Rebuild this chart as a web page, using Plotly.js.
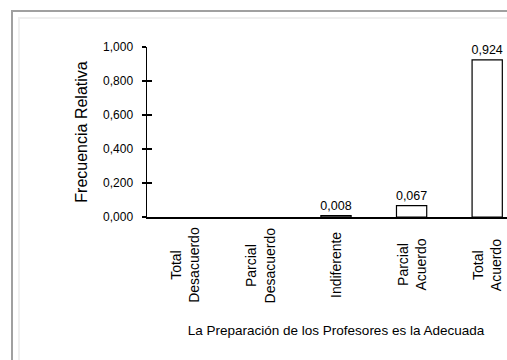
<!DOCTYPE html>
<html>
<head>
<meta charset="utf-8">
<script src="https://cdn.plot.ly/plotly-3.0.1.min.js"></script>
<style>
  html, body { margin: 0; padding: 0; overflow: hidden; background: #ffffff; width: 507px; height: 360px; }
  #chart { position: absolute; left: 0; top: 0; width: 540px; height: 360px; }
  #frameOuter { position: absolute; left: 11px; top: 10px; width: 600px; height: 400px;
    border-left: 2px solid #a0a0a0; border-top: 2px solid #a0a0a0; pointer-events: none; }
  #frameInner { position: absolute; left: 18px; top: 17px; width: 600px; height: 400px;
    border-left: 2px solid #efefef; border-top: 2px solid #efefef; pointer-events: none; }
</style>
</head>
<body>
<div id="chart"></div>
<div id="frameOuter"></div>
<div id="frameInner"></div>
<script>
const categories = ['Total Desacuerdo', 'Parcial Desacuerdo', 'Indiferente', 'Parcial Acuerdo', 'Total Acuerdo'];
const tickLabels = ['Total<br>Desacuerdo', 'Parcial<br>Desacuerdo', 'Indiferente', 'Parcial<br>Acuerdo', 'Total<br>Acuerdo'];
const values = [0, 0, 0.008, 0.067, 0.924];
const yTickValues = [0, 0.2, 0.4, 0.6, 0.8, 1.0];
const yTitle = 'Frecuencia Relativa';
const xTitle = 'La Preparación de los Profesores es la Adecuada';

const valueLabels = values.map(v => v > 0 ? v.toFixed(3).replace('.', ',') : '');
const FONT = 'Liberation Sans, Arial, sans-serif';

const trace = {
  type: 'bar',
  x: categories,
  y: values,
  width: 0.4,
  marker: { color: '#ffffff', line: { color: '#000000', width: values.map(v => v > 0 ? 1.2 : 0) } },
  text: valueLabels,
  texttemplate: '%{text}',
  textposition: 'outside',
  constraintext: 'none',
  cliponaxis: false,
  textfont: { family: FONT, size: 12.5, color: '#000000' },
  hoverinfo: 'skip'
};

// helper invisible trace for crossing (inside) tick marks on the y axis
const tickHelper = {
  type: 'scatter', x: [categories[0]], y: [0], yaxis: 'y2',
  mode: 'markers', marker: { opacity: 0 }, hoverinfo: 'skip', showlegend: false
};

const annotations = tickLabels.map((t, i) => ({
  x: categories[i], xref: 'x', y: 0, yref: 'y',
  yanchor: 'middle', xanchor: 'center', yshift: -48,
  text: t, textangle: -90, align: 'center', showarrow: false,
  font: { family: FONT, size: 14, color: '#000000' }
}));

const layout = {
  width: 540, height: 360,
  margin: { l: 147, r: 15, t: 47, b: 143, pad: 0 },
  paper_bgcolor: 'rgba(0,0,0,0)',
  plot_bgcolor: '#ffffff',
  separators: ',.',
  showlegend: false,
  font: { family: FONT, color: '#000000' },
  xaxis: {
    type: 'category', range: [-0.5, 4.5], fixedrange: true,
    showline: true, linecolor: '#000000', linewidth: 1.5,
    showgrid: false, zeroline: false, ticks: '', showticklabels: false,
    automargin: false,
    title: { text: xTitle, font: { family: FONT, size: 13.5, color: '#000000' }, standoff: 108 }
  },
  yaxis: {
    range: [0, 1], fixedrange: true,
    tickvals: yTickValues, tickformat: '.3f',
    showline: true, linecolor: '#000000', linewidth: 1.5,
    ticks: 'outside', ticklen: 4, tickwidth: 1.5, tickcolor: '#000000',
    ticklabelstandoff: 6,
    showgrid: false, zeroline: false, automargin: false,
    tickfont: { family: FONT, size: 12, color: '#000000' },
    title: { text: yTitle, font: { family: FONT, size: 16, color: '#000000' }, standoff: 11 }
  },
  yaxis2: {
    overlaying: 'y', side: 'left', anchor: 'x', range: [0, 1], fixedrange: true,
    tickvals: yTickValues.slice(1), ticks: 'inside', ticklen: 5, tickwidth: 1.5, tickcolor: '#000000',
    showticklabels: false, showline: false, showgrid: false, zeroline: false
  },
  annotations: annotations
};

Plotly.newPlot('chart', [trace, tickHelper], layout, { staticPlot: true, displayModeBar: false });
</script>
</body>
</html>
